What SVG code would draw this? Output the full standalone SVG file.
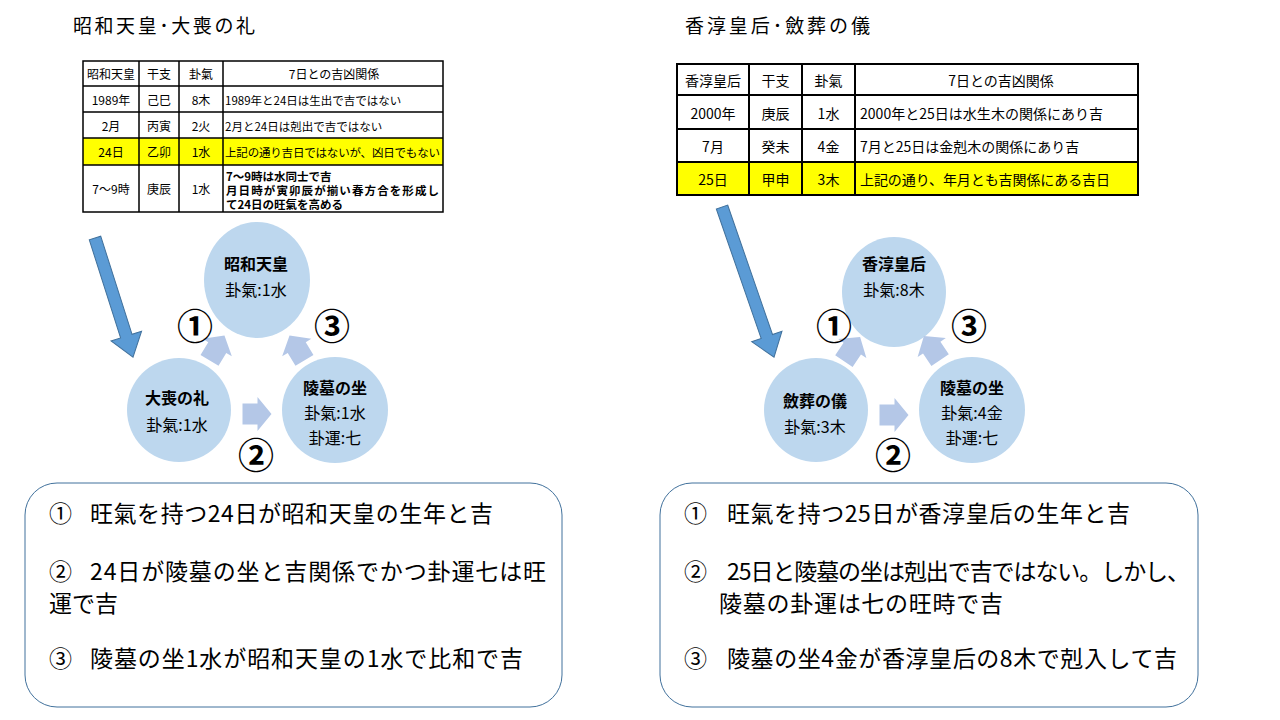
<svg xmlns="http://www.w3.org/2000/svg" width="1280" height="720" viewBox="0 0 1280 720">
  <style>
    text { font-family: "Noto Sans CJK JP", "Noto Sans", sans-serif; fill: #000; }
    .title { font-size: 19px; }
    .th { font-size: 12px; text-anchor: middle; dominant-baseline: central; }
    .td { font-size: 11.5px; dominant-baseline: central; }
    .tdb { font-size: 11.5px; font-weight: bold; dominant-baseline: central; }
    .rth { font-size: 14px; text-anchor: middle; dominant-baseline: central; }
    .rtd { font-size: 14px; dominant-baseline: central; }
    .grid { stroke: #000; stroke-width: 1.5; fill: none; }
    .hl { fill: #FFFF00; }
    .node { fill: #BDD7EE; }
    .nt { font-size: 16px; font-weight: bold; text-anchor: middle; dominant-baseline: central; }
    .nv { font-size: 16px; text-anchor: middle; dominant-baseline: central; }
    .link { fill: #B4C7E7; }
    .num { font-size: 36px; font-weight: bold; text-anchor: middle; dominant-baseline: central; }
    .big { fill: #5B9BD5; stroke: #41719C; stroke-width: 1; }
    .box { fill: #fff; stroke: #41719C; stroke-width: 1; }
    .note { font-size: 23px; dominant-baseline: central; }
  </style>
  <defs>
    <!-- block arrow pointing along +x, centred on the origin -->
    <polygon id="blk" points="-14.5,-10.5 0.5,-10.5 0.5,-17 14.5,0 0.5,17 0.5,10.5 -14.5,10.5"/>
  </defs>

  <rect width="1280" height="720" fill="#fff"/>

  <!-- ===== left panel ===== -->
  <text id="title-left" class="title" x="73" y="33" textLength="182" lengthAdjust="spacing">昭和天皇･大喪の礼</text>

  <g id="table-left">
    <rect class="hl" x="83" y="138" width="360" height="27"/>
    <rect class="grid" x="83" y="61" width="360" height="151"/>
    <path class="grid" d="M83 86H443M83 112H443M83 138H443M83 165H443M139 61V212M179 61V212M223 61V212"/>
    <text class="th" x="111" y="73.5">昭和天皇</text>
    <text class="th" x="159" y="73.5">干支</text>
    <text class="th" x="201" y="73.5">卦氣</text>
    <text class="th" x="334" y="73.5">7日との吉凶関係</text>

    <text class="th" x="111" y="99.5">1989年</text>
    <text class="th" x="159" y="99.5">己巳</text>
    <text class="th" x="201" y="99.5">8木</text>
    <text class="td" x="225" y="99.5">1989年と24日は生出で吉ではない</text>

    <text class="th" x="111" y="125.5">2月</text>
    <text class="th" x="159" y="125.5">丙寅</text>
    <text class="th" x="201" y="125.5">2火</text>
    <text class="td" x="225" y="125.5">2月と24日は剋出で吉ではない</text>

    <text class="th" x="111" y="151.5">24日</text>
    <text class="th" x="159" y="151.5">乙卯</text>
    <text class="th" x="201" y="151.5">1水</text>
    <text class="td" x="225" y="151.5" textLength="215" lengthAdjust="spacing">上記の通り吉日ではないが、凶日でもない</text>

    <text class="th" x="111" y="188.5">7～9時</text>
    <text class="th" x="159" y="188.5">庚辰</text>
    <text class="th" x="201" y="188.5">1水</text>
    <text class="tdb" x="226" y="175.5">7～9時は水同士で吉</text>
    <text class="tdb" x="226" y="189.5" textLength="213" lengthAdjust="spacing">月日時が寅卯辰が揃い春方合を形成し</text>
    <text class="tdb" x="226" y="203.5">て24日の旺氣を高める</text>
  </g>

  <g id="pointer-left">
    <polygon class="big" transform="translate(95 238) rotate(72.3)" points="0,-6 103,-6 103,-16 125,0 103,16 103,6 0,6"/>
  </g>

  <g id="node-showa">
    <ellipse class="node" cx="257" cy="280" rx="53" ry="58"/>
    <text class="nt" x="256" y="263">昭和天皇</text>
    <text class="nv" x="256" y="289">卦氣:1水</text>
  </g>
  <g id="node-taiso">
    <circle class="node" cx="179" cy="410" r="52"/>
    <text class="nt" x="177" y="397">大喪の礼</text>
    <text class="nv" x="177" y="424">卦氣:1水</text>
  </g>
  <g id="node-ryobo-left">
    <circle class="node" cx="335" cy="410" r="53"/>
    <text class="nt" x="335" y="387">陵墓の坐</text>
    <text class="nv" x="335" y="412">卦氣:1水</text>
    <text class="nv" x="335" y="437">卦運:七</text>
  </g>

  <g id="links-left">
    <use href="#blk" class="link" transform="translate(217 348) rotate(-59)"/>
    <use href="#blk" class="link" transform="translate(257 414)"/>
    <use href="#blk" class="link" transform="translate(297 348) rotate(-121)"/>
    <text class="num" x="195" y="324">①</text>
    <text class="num" x="256" y="453">②</text>
    <text class="num" x="332" y="324">③</text>
  </g>

  <g id="notes-left">
    <rect class="box" x="25" y="483" width="537" height="224" rx="32"/>
    <text class="note" x="49" y="512">①</text>
    <text class="note" x="90" y="512" textLength="403" lengthAdjust="spacing">旺氣を持つ24日が昭和天皇の生年と吉</text>
    <text class="note" x="49" y="570">②</text>
    <text class="note" x="90" y="570" textLength="456" lengthAdjust="spacing">24日が陵墓の坐と吉関係でかつ卦運七は旺</text>
    <text class="note" x="49" y="602">運で吉</text>
    <text class="note" x="49" y="657">③</text>
    <text class="note" x="90" y="657" textLength="433" lengthAdjust="spacing">陵墓の坐1水が昭和天皇の1水で比和で吉</text>
  </g>

  <!-- ===== right panel ===== -->
  <text id="title-right" class="title" x="685" y="33" textLength="185" lengthAdjust="spacing">香淳皇后･斂葬の儀</text>

  <g id="table-right">
    <rect class="hl" x="677" y="162" width="461" height="33"/>
    <rect class="grid" x="677" y="64" width="461" height="131" style="stroke-width:2"/>
    <path class="grid" style="stroke-width:2" d="M677 95H1138M677 129H1138M677 162H1138M749 64V195M802 64V195M855 64V195"/>
    <text class="rth" x="713" y="80">香淳皇后</text>
    <text class="rth" x="775.5" y="80">干支</text>
    <text class="rth" x="828.5" y="80">卦氣</text>
    <text class="rth" x="1001" y="80">7日との吉凶関係</text>

    <text class="rth" x="713" y="112.5">2000年</text>
    <text class="rth" x="775.5" y="112.5">庚辰</text>
    <text class="rth" x="828.5" y="112.5">1水</text>
    <text class="rtd" x="860" y="112.5" textLength="243" lengthAdjust="spacing">2000年と25日は水生木の関係にあり吉</text>

    <text class="rth" x="713" y="146">7月</text>
    <text class="rth" x="775.5" y="146">癸未</text>
    <text class="rth" x="828.5" y="146">4金</text>
    <text class="rtd" x="860" y="146">7月と25日は金剋木の関係にあり吉</text>

    <text class="rth" x="713" y="179">25日</text>
    <text class="rth" x="775.5" y="179">甲申</text>
    <text class="rth" x="828.5" y="179">3木</text>
    <text class="rtd" x="860" y="179" textLength="250" lengthAdjust="spacing">上記の通り、年月とも吉関係にある吉日</text>
  </g>

  <g id="pointer-right">
    <polygon class="big" transform="translate(722 207) rotate(70.9)" points="0,-6 137,-6 137,-16 159,0 137,16 137,6 0,6"/>
  </g>

  <g id="node-kojun">
    <ellipse class="node" cx="894" cy="292" rx="52" ry="55"/>
    <text class="nt" x="894" y="263">香淳皇后</text>
    <text class="nv" x="894" y="289">卦氣:8木</text>
  </g>
  <g id="node-rensou">
    <circle class="node" cx="816" cy="410" r="52"/>
    <text class="nt" x="815" y="400">斂葬の儀</text>
    <text class="nv" x="815" y="426">卦氣:3木</text>
  </g>
  <g id="node-ryobo-right">
    <circle class="node" cx="972" cy="410" r="53"/>
    <text class="nt" x="972" y="387">陵墓の坐</text>
    <text class="nv" x="972" y="412">卦氣:4金</text>
    <text class="nv" x="972" y="437">卦運:七</text>
  </g>

  <g id="links-right">
    <use href="#blk" class="link" transform="translate(852 349) rotate(-56)"/>
    <use href="#blk" class="link" transform="translate(894 415)"/>
    <use href="#blk" class="link" transform="translate(932 348) rotate(-124)"/>
    <text class="num" x="834" y="324">①</text>
    <text class="num" x="893" y="453">②</text>
    <text class="num" x="969" y="324">③</text>
  </g>

  <g id="notes-right">
    <rect class="box" x="660" y="483" width="538" height="224" rx="32"/>
    <text class="note" x="684" y="512">①</text>
    <text class="note" x="727" y="512" textLength="403" lengthAdjust="spacing">旺氣を持つ25日が香淳皇后の生年と吉</text>
    <text class="note" x="684" y="570">②</text>
    <text class="note" x="727" y="570" textLength="463" lengthAdjust="spacing">25日と陵墓の坐は剋出で吉ではない。しかし、</text>
    <text class="note" x="719" y="602" textLength="284" lengthAdjust="spacing">陵墓の卦運は七の旺時で吉</text>
    <text class="note" x="684" y="657">③</text>
    <text class="note" x="727" y="657" textLength="450" lengthAdjust="spacing">陵墓の坐4金が香淳皇后の8木で剋入して吉</text>
  </g>
</svg>
